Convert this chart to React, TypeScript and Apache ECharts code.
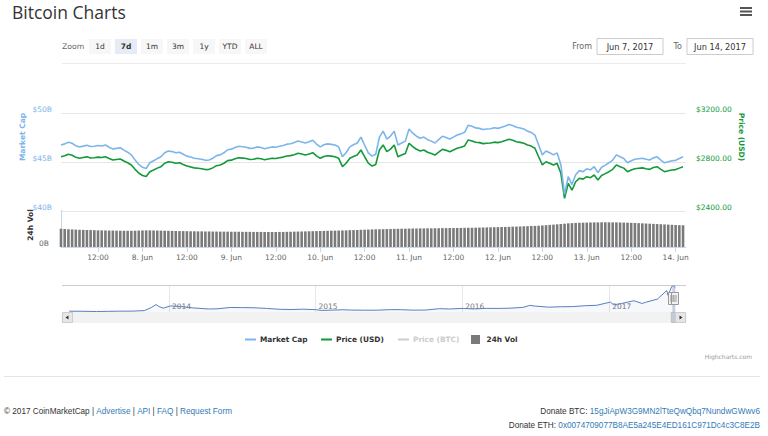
import React, { useEffect, useRef } from 'react';
import * as echarts from 'echarts';

// ---------- data ----------
const HOUR = 3600 * 1000;
const FIRST_SAMPLE = Date.UTC(2017, 5, 7, 2, 0);
const AXIS_MIN = Date.UTC(2017, 5, 7, 2, 0);
const AXIS_MAX = Date.UTC(2017, 5, 14, 2, 48);
const SELECTED_FROM = Date.UTC(2017, 5, 7);
const SELECTED_TO = Date.UTC(2017, 5, 14);

// hourly samples, Jun 7 02:00 -> Jun 14 02:00 (UTC)
const priceUsd = [
  2843, 2851, 2863, 2855, 2838, 2830, 2836, 2842, 2833, 2835, 2840, 2837,
  2843, 2828, 2816, 2820, 2824, 2808, 2794, 2776, 2740, 2710, 2690, 2682,
  2721, 2735, 2750, 2762, 2790, 2802, 2798, 2790, 2794, 2780, 2767, 2760,
  2752, 2749, 2745, 2738, 2740, 2752, 2770, 2776, 2790, 2811, 2815, 2826,
  2835, 2832, 2828, 2820, 2822, 2830, 2826, 2818, 2824, 2830, 2828, 2835,
  2840, 2849, 2852, 2860, 2871, 2865, 2857, 2866, 2876, 2850, 2830, 2845,
  2851, 2848, 2843, 2830, 2762, 2790, 2830, 2845, 2857, 2898, 2843, 2790,
  2767, 2780, 2898, 2939, 2884, 2905, 2939, 2843, 2857, 2870, 2953, 2925,
  2904, 2890, 2898, 2880, 2870, 2857, 2880, 2904, 2895, 2884, 2898, 2912,
  2920, 2931, 2980, 2972, 2961, 2958, 2950, 2953, 2955, 2962, 2958, 2966,
  2975, 2985, 2978, 2966, 2960, 2953, 2939, 2930, 2912, 2843, 2776, 2802,
  2790, 2776, 2789, 2708, 2504, 2626, 2571, 2639, 2667, 2660, 2680, 2672,
  2694, 2653, 2690, 2705, 2721, 2740, 2776, 2762, 2750, 2721, 2735, 2745,
  2749, 2752, 2745, 2740, 2755, 2762, 2740, 2721, 2728, 2735, 2738, 2750,
  2762,
];

const marketCapB = [
  46.73, 46.85, 47.02, 46.91, 46.65, 46.54, 46.62, 46.71, 46.58, 46.61, 46.68, 46.64,
  46.73, 46.51, 46.33, 46.39, 46.45, 46.21, 46.0, 45.73, 45.2, 44.76, 44.46, 44.34,
  44.92, 45.13, 45.35, 45.53, 45.94, 46.12, 46.06, 45.94, 46.0, 45.79, 45.6, 45.5,
  45.38, 45.33, 45.28, 45.17, 45.2, 45.38, 45.65, 45.73, 45.94, 46.25, 46.31, 46.48,
  46.61, 46.56, 46.51, 46.39, 46.42, 46.54, 46.48, 46.36, 46.45, 46.54, 46.51, 46.61,
  46.68, 46.82, 46.86, 46.98, 47.14, 47.05, 46.94, 47.07, 47.22, 46.83, 46.54, 46.76,
  46.85, 46.8, 46.73, 46.54, 45.53, 45.94, 46.54, 46.76, 46.94, 47.54, 46.73, 45.94,
  45.6, 45.79, 47.54, 48.15, 47.34, 47.65, 48.15, 46.73, 46.94, 47.13, 48.36, 47.94,
  47.63, 47.42, 47.54, 47.28, 47.13, 46.94, 47.28, 47.63, 47.5, 47.34, 47.54, 47.75,
  47.87, 48.03, 48.76, 48.64, 48.48, 48.43, 48.31, 48.36, 48.39, 48.49, 48.43, 48.55,
  48.68, 48.83, 48.73, 48.55, 48.46, 48.36, 48.15, 48.02, 47.75, 46.73, 45.73, 46.12,
  45.94, 45.73, 45.93, 44.73, 41.7, 43.51, 42.7, 43.7, 44.12, 44.02, 44.31, 44.19,
  44.52, 43.91, 44.46, 44.68, 44.92, 45.2, 45.73, 45.53, 45.35, 44.92, 45.13, 45.28,
  45.33, 45.38, 45.28, 45.2, 45.42, 45.53, 45.2, 44.92, 45.02, 45.13, 45.17, 45.35,
  45.53,
];

const volume24hB = [
  1.98, 1.95, 1.92, 1.9, 1.88, 1.86, 1.85, 1.84, 1.83, 1.82, 1.8, 1.8,
  1.79, 1.78, 1.78, 1.77, 1.76, 1.76, 1.75, 1.75, 1.76, 1.78, 1.79, 1.8,
  1.8, 1.79, 1.78, 1.77, 1.76, 1.75, 1.74, 1.73, 1.72, 1.72, 1.71, 1.7,
  1.7, 1.69, 1.69, 1.68, 1.68, 1.67, 1.67, 1.66, 1.66, 1.66, 1.65, 1.65,
  1.65, 1.64, 1.64, 1.64, 1.63, 1.63, 1.63, 1.62, 1.62, 1.62, 1.62, 1.63,
  1.63, 1.64, 1.65, 1.66, 1.67, 1.68, 1.69, 1.7, 1.71, 1.72, 1.73, 1.74,
  1.75, 1.76, 1.77, 1.78, 1.79, 1.8, 1.82, 1.83, 1.84, 1.86, 1.87, 1.88,
  1.9, 1.91, 1.92, 1.93, 1.94, 1.95, 1.96, 1.97, 1.98, 1.98, 1.99, 2.0,
  2.0, 2.01, 2.01, 2.02, 2.02, 2.03, 2.03, 2.04, 2.04, 2.05, 2.05, 2.06,
  2.06, 2.07, 2.08, 2.08, 2.09, 2.1, 2.11, 2.12, 2.13, 2.14, 2.15, 2.16,
  2.17, 2.18, 2.2, 2.21, 2.22, 2.24, 2.25, 2.27, 2.28, 2.3, 2.33, 2.36,
  2.39, 2.42, 2.45, 2.48, 2.52, 2.56, 2.58, 2.6, 2.62, 2.63, 2.64, 2.65,
  2.66, 2.66, 2.67, 2.67, 2.67, 2.66, 2.66, 2.65, 2.64, 2.63, 2.61, 2.6,
  2.58, 2.56, 2.54, 2.52, 2.5, 2.48, 2.46, 2.44, 2.42, 2.4, 2.38, 2.36,
  2.35,
];

const timeTicks = [
  Date.UTC(2017, 5, 7, 12), Date.UTC(2017, 5, 8, 0), Date.UTC(2017, 5, 8, 12),
  Date.UTC(2017, 5, 9, 0), Date.UTC(2017, 5, 9, 12), Date.UTC(2017, 5, 10, 0),
  Date.UTC(2017, 5, 10, 12), Date.UTC(2017, 5, 11, 0), Date.UTC(2017, 5, 11, 12),
  Date.UTC(2017, 5, 12, 0), Date.UTC(2017, 5, 12, 12), Date.UTC(2017, 5, 13, 0),
  Date.UTC(2017, 5, 13, 12), Date.UTC(2017, 5, 14, 0),
];

const capAxis = { min: 40, max: 50, step: 5 };
const priceAxis = { min: 2400, max: 3200, step: 400 };
const volAxis = { min: 0, max: 4, step: 4 };

// navigator: full market cap history (billions USD)
const navDates = [
  '2013-04-28', '2013-06-01', '2013-07-05', '2013-08-01', '2013-09-01', '2013-10-01',
  '2013-11-01', '2013-11-18', '2013-11-30', '2013-12-07', '2013-12-18', '2014-01-05',
  '2014-02-01', '2014-03-01', '2014-04-10', '2014-05-01', '2014-06-03', '2014-07-01',
  '2014-08-01', '2014-09-01', '2014-10-05', '2014-11-01', '2014-12-01', '2015-01-01',
  '2015-01-15', '2015-02-01', '2015-03-10', '2015-04-01', '2015-05-01', '2015-06-01',
  '2015-07-10', '2015-08-01', '2015-09-01', '2015-10-01', '2015-11-05', '2015-12-01',
  '2016-01-01', '2016-02-01', '2016-03-01', '2016-04-01', '2016-05-01', '2016-06-01',
  '2016-06-17', '2016-07-01', '2016-08-03', '2016-09-01', '2016-10-01', '2016-11-01',
  '2016-12-01', '2017-01-04', '2017-01-12', '2017-02-01', '2017-03-03', '2017-03-24',
  '2017-04-01', '2017-05-01', '2017-05-24', '2017-05-27', '2017-06-06', '2017-06-10',
  '2017-06-14',
];
const navCapB = [
  1.5, 1.3, 0.9, 1.2, 1.5, 1.6,
  2.5, 8.0, 13.5, 10.0, 7.0, 11.0,
  10.0, 7.5, 5.5, 5.8, 8.2, 8.0,
  7.7, 6.5, 4.9, 4.5, 5.1, 4.3,
  2.9, 3.2, 4.0, 3.5, 3.3, 3.3,
  4.3, 4.2, 3.4, 3.5, 6.0, 5.5,
  6.5, 5.6, 6.6, 6.5, 7.0, 8.5,
  12.0, 10.7, 8.8, 9.5, 9.8, 11.3,
  12.2, 18.0, 13.0, 15.5, 20.5, 15.5,
  17.5, 23.5, 39.0, 30.5, 46.8, 48.0,
  44.5,
];
const navYears = [2014, 2015, 2016, 2017];
const NAV_MIN = Date.UTC(2013, 3, 10);
const NAV_MAX = Date.UTC(2017, 6, 11);
const NAV_Y_MAX = 49;

const zoomButtons = ['1d', '7d', '1m', '3m', '1y', 'YTD', 'ALL'];
const selectedZoom = '7d';

const legendItems = [
  { name: 'Market Cap', kind: 'line', color: '#7cb5ec', text: '#333333' },
  { name: 'Price (USD)', kind: 'line', color: '#129a3a', text: '#333333' },
  { name: 'Price (BTC)', kind: 'line', color: '#cccccc', text: '#cccccc' },
  { name: '24h Vol', kind: 'box', color: '#7a7a7a', text: '#333333' },
];

const FONT = 'DejaVu Sans';
const BLUE = '#7cb5ec';
const GREEN = '#129a3a';

export default function App() {
  const ref = useRef<HTMLDivElement>(null);

  useEffect(() => {
    const chart = echarts.init(ref.current!, null, { renderer: 'svg' });
    const times = priceUsd.map((_, i) => FIRST_SAMPLE + i * HOUR);
    const capData = marketCapB.map((v, i) => [times[i], v]);
    const priceData = priceUsd.map((v, i) => [times[i], v]);
    const volData = volume24hB.map((v, i) => [times[i], v]);
    const navData = navDates.map((d, i) => [Date.parse(d), navCapB[i]]);
    const yearTicks = navYears.map((y) => Date.UTC(y, 0, 1));

    const lbl = { fontFamily: FONT, fontSize: 7.5 };

    chart.setOption({
      animation: false,
      backgroundColor: '#ffffff',
      grid: [
        { left: 61, right: 82, top: 113, height: 98, outerBoundsMode: 'none' },
        { left: 61, right: 82, top: 210, height: 37, outerBoundsMode: 'none' },
        { left: 62, right: 82, top: 285, height: 27, outerBoundsMode: 'none' },
      ],
      xAxis: [
        { type: 'value', gridIndex: 0, min: AXIS_MIN, max: AXIS_MAX, show: false },
        {
          type: 'value', gridIndex: 1, min: AXIS_MIN, max: AXIS_MAX,
          axisLine: { show: true, lineStyle: { color: '#ccd6eb', width: 1 } },
          axisTick: { show: true, customValues: timeTicks, length: 5, lineStyle: { color: '#ccd6eb' } },
          splitLine: { show: false },
          axisLabel: {
            ...lbl, color: '#666666', margin: 6, customValues: timeTicks,
            formatter: (v: number) => {
              const d = new Date(v);
              return d.getUTCHours() === 0 ? `${d.getUTCDate()}. Jun` : '12:00';
            },
          },
        },
        {
          type: 'value', gridIndex: 2, min: NAV_MIN, max: NAV_MAX,
          axisLine: { show: false },
          axisTick: { show: false, customValues: yearTicks },
          splitLine: { show: true, lineStyle: { color: '#e6e6e6', width: 1 } },
          axisLabel: {
            ...lbl, color: '#777777', inside: true, margin: 2, align: 'left',
            verticalAlign: 'bottom', padding: [0, 0, 0, 3], customValues: yearTicks,
            formatter: (v: number) => String(new Date(v).getUTCFullYear()),
          },
        },
      ],
      yAxis: [
        {
          type: 'value', gridIndex: 0, position: 'left',
          min: capAxis.min, max: capAxis.max, interval: capAxis.step,
          axisLine: { show: false }, axisTick: { show: false },
          splitLine: { show: true, lineStyle: { color: '#e6e6e6', width: 1 } },
          axisLabel: { ...lbl, color: BLUE, margin: 9, verticalAlign: 'bottom', formatter: (v: number) => `$${v}B` },
        },
        {
          type: 'value', gridIndex: 0, position: 'right',
          min: priceAxis.min, max: priceAxis.max, interval: priceAxis.step,
          axisLine: { show: false }, axisTick: { show: false }, splitLine: { show: false },
          axisLabel: { ...lbl, color: GREEN, margin: 10, verticalAlign: 'bottom', formatter: (v: number) => `$${v.toFixed(2)}` },
        },
        {
          type: 'value', gridIndex: 1, position: 'left',
          min: volAxis.min, max: volAxis.max, interval: volAxis.step,
          axisLine: { show: true, lineStyle: { color: '#ccd6eb', width: 1 } },
          axisTick: { show: false }, splitLine: { show: false },
          axisLabel: { ...lbl, color: '#666666', margin: 12, verticalAlign: 'bottom', formatter: (v: number) => (v === 0 ? '0B' : '') },
        },
        { type: 'value', gridIndex: 2, min: 0, max: NAV_Y_MAX, show: false, splitLine: { show: false } },
      ],
      series: [
        {
          name: 'Price (USD)', type: 'line', xAxisIndex: 0, yAxisIndex: 1, data: priceData,
          showSymbol: false, lineStyle: { color: GREEN, width: 1.6 }, itemStyle: { color: GREEN },
        },
        {
          name: 'Market Cap', type: 'line', xAxisIndex: 0, yAxisIndex: 0, data: capData,
          showSymbol: false, lineStyle: { color: BLUE, width: 1.6 }, itemStyle: { color: BLUE },
        },
        {
          name: '24h Vol', type: 'bar', xAxisIndex: 1, yAxisIndex: 2, data: volData,
          barWidth: 2.6, itemStyle: { color: '#7a7a7a' },
        },
        {
          name: 'Navigator', type: 'line', xAxisIndex: 2, yAxisIndex: 3, data: navData,
          showSymbol: false, lineStyle: { color: '#5a7ec0', width: 1 },
          areaStyle: { color: 'rgba(51,92,173,0.06)' },
        },
      ],
    });

    const xs = chart.convertToPixel({ xAxisIndex: 2 }, SELECTED_FROM) as number;
    const xe = chart.convertToPixel({ xAxisIndex: 2 }, SELECTED_TO) as number;
    const navTop = 285;
    const navBottom = 312;

    const txt = (text: string, x: number, y: number, extra: any = {}) => ({
      type: 'text', x, y, silent: true,
      style: { text, fontFamily: FONT, fontSize: 7.5, fill: '#333333', verticalAlign: 'middle', ...extra },
    });

    const els: any[] = [];
    // title + menu icon
    els.push(txt('Bitcoin Charts', 12, 12, { fontFamily: 'Open Sans', fontSize: 17.5, fill: '#333333' }));
    [7, 10.5, 14].forEach((y) => els.push({ type: 'rect', shape: { x: 740, y, width: 12, height: 2 }, style: { fill: '#555555' } }));

    // range selector
    els.push(txt('Zoom', 62, 46.5, { fill: '#666666', fontSize: 7.7 }));
    zoomButtons.forEach((b, i) => {
      const x = 89 + i * 26;
      const sel = b === selectedZoom;
      els.push({ type: 'rect', shape: { x, y: 39, width: 22, height: 15 }, style: { fill: sel ? '#e6ebf5' : '#f7f7f7' } });
      els.push(txt(b, x + 11, 46.5, { align: 'center', fontWeight: sel ? 'bold' : 'normal' }));
    });
    els.push(txt('From', 592, 46.5, { align: 'right', fill: '#666666', fontSize: 8 }));
    els.push({ type: 'rect', shape: { x: 597, y: 38.5, width: 66, height: 16 }, style: { fill: '#ffffff', stroke: '#cccccc', lineWidth: 1 } });
    els.push(txt('Jun 7, 2017', 630, 46.5, { align: 'center', fontSize: 8.2 }));
    els.push(txt('To', 682, 46.5, { align: 'right', fill: '#666666', fontSize: 8 }));
    els.push({ type: 'rect', shape: { x: 687, y: 38.5, width: 66, height: 16 }, style: { fill: '#ffffff', stroke: '#cccccc', lineWidth: 1 } });
    els.push(txt('Jun 14, 2017', 720, 46.5, { align: 'center', fontSize: 8.2 }));
    els.push({ type: 'line', shape: { x1: 62, y1: 63.5, x2: 686, y2: 63.5 }, style: { stroke: '#ebebeb', lineWidth: 1 } });

    // axis titles
    els.push({ type: 'text', x: 22.5, y: 137, rotation: Math.PI / 2, style: { text: 'Market Cap', fontFamily: FONT, fontSize: 7.5, fontWeight: 'bold', fill: BLUE, align: 'center', verticalAlign: 'middle' } });
    els.push({ type: 'text', x: 741.5, y: 137, rotation: -Math.PI / 2, style: { text: 'Price (USD)', fontFamily: FONT, fontSize: 7.5, fontWeight: 'bold', fill: GREEN, align: 'center', verticalAlign: 'middle' } });
    els.push({ type: 'text', x: 30.5, y: 225, rotation: Math.PI / 2, style: { text: '24h Vol', fontFamily: FONT, fontSize: 7.5, fontWeight: 'bold', fill: '#333333', align: 'center', verticalAlign: 'middle' } });

    // navigator decorations
    els.push({ type: 'line', z: 10, shape: { x1: 62, y1: navTop + 0.5, x2: 686, y2: navTop + 0.5 }, style: { stroke: '#cccccc', lineWidth: 1 } });
    els.push({ type: 'rect', z: 10, shape: { x: 62, y: 312.5, width: 624, height: 10 }, style: { fill: '#f2f2f2', stroke: '#f2f2f2' } });
    els.push({ type: 'rect', z: 11, shape: { x: xs - 1, y: 312.5, width: Math.max(xe - xs + 2, 5), height: 10 }, style: { fill: '#c5cbd6', stroke: '#b8bfcc' } });
    els.push({ type: 'rect', z: 11, shape: { x: 62.5, y: 312.5, width: 10, height: 10 }, style: { fill: '#e6e6e6', stroke: '#cccccc' } });
    els.push({ type: 'polygon', z: 12, shape: { points: [[68.5, 315.5], [68.5, 319.5], [65.5, 317.5]] }, style: { fill: '#333333' } });
    els.push({ type: 'rect', z: 11, shape: { x: 675.5, y: 312.5, width: 10, height: 10 }, style: { fill: '#e6e6e6', stroke: '#cccccc' } });
    els.push({ type: 'polygon', z: 12, shape: { points: [[679.5, 315.5], [679.5, 319.5], [682.5, 317.5]] }, style: { fill: '#333333' } });
    els.push({ type: 'rect', z: 10, shape: { x: xs, y: navTop, width: Math.max(xe - xs, 3), height: navBottom - navTop }, style: { fill: 'rgba(102,133,194,0.35)' } });
    [xs, xe].forEach((hx) => {
      els.push({ type: 'rect', z: 12, shape: { x: Math.round(hx) - 3.5, y: 292.5, width: 7, height: 12 }, style: { fill: '#f2f2f2', stroke: '#999999', lineWidth: 1 } });
      els.push({ type: 'line', z: 13, shape: { x1: Math.round(hx) - 1, y1: 295, x2: Math.round(hx) - 1, y2: 302 }, style: { stroke: '#999999', lineWidth: 1 } });
      els.push({ type: 'line', z: 13, shape: { x1: Math.round(hx) + 1, y1: 295, x2: Math.round(hx) + 1, y2: 302 }, style: { stroke: '#999999', lineWidth: 1 } });
    });

    // legend
    let lx = 245;
    const legendX = [245, 321, 398, 471];
    legendItems.forEach((it, i) => {
      lx = legendX[i];
      if (it.kind === 'line') {
        els.push({ type: 'line', shape: { x1: lx, y1: 339.5, x2: lx + 11, y2: 339.5 }, style: { stroke: it.color, lineWidth: 2 } });
        els.push(txt(it.name, lx + 15, 339.5, { fontWeight: 'bold', fill: it.text, fontSize: 7.4 }));
      } else {
        els.push({ type: 'rect', shape: { x: lx, y: 335, width: 9, height: 9 }, style: { fill: it.color } });
        els.push(txt(it.name, lx + 15.5, 339.5, { fontWeight: 'bold', fill: it.text, fontSize: 7.4 }));
      }
    });

    // credits + footer
    els.push(txt('Highcharts.com', 752, 356, { align: 'right', fill: '#999999', fontSize: 6 }));
    els.push({ type: 'line', shape: { x1: 4, y1: 376.5, x2: 760, y2: 376.5 }, style: { stroke: '#e5e5e5', lineWidth: 1 } });
    const ff = 'Liberation Sans';
    const link = { fill: '#337ab7', fontFamily: ff, fontSize: 8.2 };
    els.push({
      type: 'text', x: 4, y: 411,
      style: {
        text: '© 2017 CoinMarketCap | {l|Advertise} | {l|API} | {l|FAQ} | {l|Request Form}',
        fontFamily: ff, fontSize: 8.2, fill: '#333333', verticalAlign: 'middle', rich: { l: link },
      },
    });
    els.push({
      type: 'text', x: 760, y: 411,
      style: {
        text: 'Donate BTC: {l|15gJiApW3G9MN2lTteQwQbq7NundwGWwv6}',
        fontFamily: ff, fontSize: 8.2, fill: '#333333', align: 'right', verticalAlign: 'middle', rich: { l: link },
      },
    });
    els.push({
      type: 'text', x: 760, y: 425,
      style: {
        text: 'Donate ETH: {l|0x0074709077B8AE5a245E4ED161C971Dc4c3C8E2B}',
        fontFamily: ff, fontSize: 8.2, fill: '#333333', align: 'right', verticalAlign: 'middle', rich: { l: link },
      },
    });

    chart.setOption({ graphic: { elements: els } });

    return () => chart.dispose();
  }, []);

  return (
    <div
      ref={ref}
      style={{ position: 'fixed', left: 0, top: 0, width: 768, height: 436, background: '#ffffff' }}
    />
  );
}
